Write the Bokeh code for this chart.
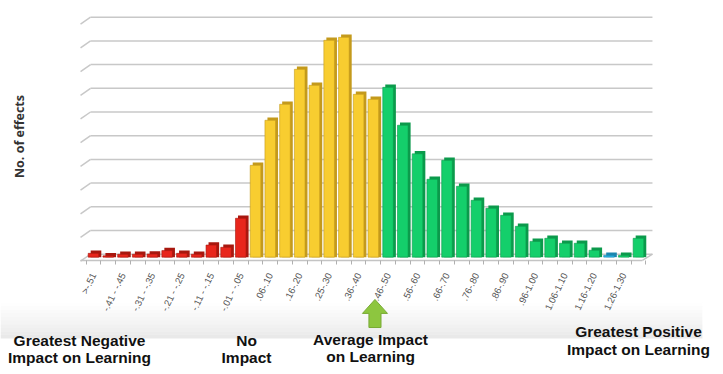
from bokeh.plotting import figure
from bokeh.models import Range1d, FixedTicker
from bokeh.core.properties import value
from bokeh.embed import file_html
from bokeh.resources import INLINE

# ---------------- data ----------------
bins = [">-.51", "-.46 - -.50", "-.41 - -.45", "-.36 - -.40", "-.31 - -.35",
        "-.26 - -.30", "-.21 - -.25", "-.16 - -.20", "-.11 - -.15", "-.06 - -.10",
        "-.01 - -.05", ".00-.05", ".06-.10", ".11-.15", ".16-.20", ".21-.25",
        ".25-.30", ".31-.35", ".36-.40", ".41-.45", ".46-.50", ".51-.55",
        ".56-.60", ".61-.65", ".66-.70", ".71-.75", ".76-.80", ".81-.85",
        ".86-.90", ".91-.95", ".96-1.00", "1.01-1.05", "1.06-1.10", "1.11-1.15",
        "1.16-1.20", "1.21-1.25", "1.26-1.30", ">1.30"]
effects = [3.1, 1.0, 2.3, 2.3, 2.5, 5.4, 3.1, 2.3, 10.1, 8.2,
           32.7, 77.4, 115.4, 128.9, 158.4, 144.9, 182.9, 185.4, 137.3, 133.1,
           143.2, 111.2, 87.1, 65.6, 81.6, 59.7, 47.9, 41.1, 35.2, 25.9,
           13.2, 15.8, 11.6, 11.6, 5.7, 1.4, 1.4, 15.8]
zone = (["negative"] * 11 + ["low"] * 9 + ["positive"] * 15 + ["highlight"]
        + ["positive"] * 2)
grid_values = [0, 20, 40, 60, 80, 100, 120, 140, 160, 180, 200]
y_title = "No. of effects"
notes = [("Greatest Negative", "Impact on Learning"), ("No", "Impact"),
         ("Average Impact", "on Learning"), ("Greatest Positive", "Impact on Learning")]
average_bin = ".46-.50"

# ---------------- styling / layout ----------------
front_col = {"negative": "#e8261c", "low": "#f8cd30", "positive": "#14cf6b", "highlight": "#2bb4e6"}
side_col = {"negative": "#a8180f", "low": "#c49a1c", "positive": "#0c9a4c", "highlight": "#1a86b0"}
depth = 2.4            # visible top face depth (data units)
bar_bottom = -2.5
floor_front = -5.3     # front edge of the 3D floor
wall_left, wall_right = 0.80, 38.95   # back wall extent
stub_dx, stub_dy = 0.68, 5.9          # perspective offset back wall -> front
x_lo, x_hi = -5.314, 43.23
y_lo, y_hi = -94.8, 214.1

idx = list(range(1, len(bins) + 1))
fronts = [front_col[z] for z in zone]
sides = [side_col[z] for z in zone]
front_top = [v - depth for v in effects]

p = figure(width=715, height=366, x_range=Range1d(x_lo, x_hi), y_range=Range1d(y_lo, y_hi),
           output_backend="svg", toolbar_location=None,
           min_border_left=0, min_border_right=0, min_border_top=0, min_border_bottom=0)
p.outline_line_color = None
p.xgrid.visible = False
p.ygrid.visible = False
p.yaxis.visible = False

# gray band behind the lower labels (vertical gradient)
band_top, band_bot, steps = -41.0, -71.1, 10
for k in range(steps):
    t0 = band_top + (band_bot - band_top) * k / steps
    t1 = band_top + (band_bot - band_top) * (k + 1) / steps
    p.quad(left=x_lo, right=42.34, top=t0, bottom=t1, fill_color="#e2e2e2",
           fill_alpha=((k + 1) / steps) ** 1.3 * 0.75, line_color=None)

# back wall grid lines with perspective stubs
p.segment(x0=[wall_left] * len(grid_values), x1=[wall_right] * len(grid_values),
          y0=grid_values, y1=grid_values, line_color="#c8c8c8", line_width=1.5)
p.segment(x0=[wall_left - stub_dx] * len(grid_values), x1=[wall_left] * len(grid_values),
          y0=[g - stub_dy for g in grid_values], y1=grid_values,
          line_color="#c8c8c8", line_width=1.5)
# floor right edge
p.segment(x0=[wall_right - stub_dx], x1=[wall_right], y0=[floor_front], y1=[0],
          line_color="#c4c4c4", line_width=1.5)

# x axis drawn at the floor front edge
label_pos = idx[::2]
xa = p.xaxis[0]
xa.fixed_location = floor_front
xa.bounds = (wall_left - stub_dx, wall_right - stub_dx)
xa.ticker = FixedTicker(ticks=label_pos, minor_ticks=[i + 0.5 for i in [0] + idx])
xa.major_label_overrides = {i: bins[i - 1] for i in label_pos}
xa.major_tick_line_color = None
xa.major_tick_out = 0
xa.minor_tick_in = 0
xa.minor_tick_out = 4
xa.minor_tick_line_color = "#b0b0b0"
xa.axis_line_color = "#c4c4c4"
xa.axis_line_width = 1.5
xa.major_label_orientation = 1.12
xa.major_label_text_font = "Liberation Sans"
xa.major_label_text_font_size = "9.5px"
xa.major_label_text_color = "#555555"
xa.major_label_standoff = 9

# 3D-ish bars
p.vbar(x=[i + 0.17 for i in idx], top=effects, bottom=bar_bottom, width=0.72,
       fill_color=sides, line_color=None)
p.vbar(x=idx, top=front_top, bottom=bar_bottom, width=0.72, fill_color=fronts,
       line_color=sides, line_width=0.6)

# y title
p.text(x=[-4.02], y=[99.3], text=[y_title], angle=1.5708, text_align="center",
       text_baseline="middle", text_font=value("Open Sans"), text_font_style="bold",
       text_font_size="12.5px", text_color="#333333")

# arrow pointing at the average bin
ax = bins.index(average_bin) + 1 - 0.89
tip, base, tail, hw, sw = -38.2, -50.0, -61.9, 0.85, 0.41
p.patch(x=[ax, ax + hw, ax + sw, ax + sw, ax - sw, ax - sw, ax - hw],
        y=[tip, base, base, tail, tail, base, base],
        fill_color="#8dc63f", line_color="#78aa34", line_width=1)

# bottom notes
note_x = [0.05, 11.39, 19.81, 38.0]
note_y = [(-72.8, -87.2), (-72.8, -87.2), (-71.6, -86.0), (-65.2, -80.4)]
xs, ys, ts = [], [], []
for (l1, l2), x, (y1, y2) in zip(notes, note_x, note_y):
    xs += [x, x]
    ys += [y1, y2]
    ts += [l1, l2]
p.text(x=xs, y=ys, text=ts, text_align="center", text_baseline="middle",
       text_font=value("Liberation Sans"), text_font_style="bold",
       text_font_size="15.5px", text_color="#111111")

open("out.html", "w").write(file_html(p, INLINE))
